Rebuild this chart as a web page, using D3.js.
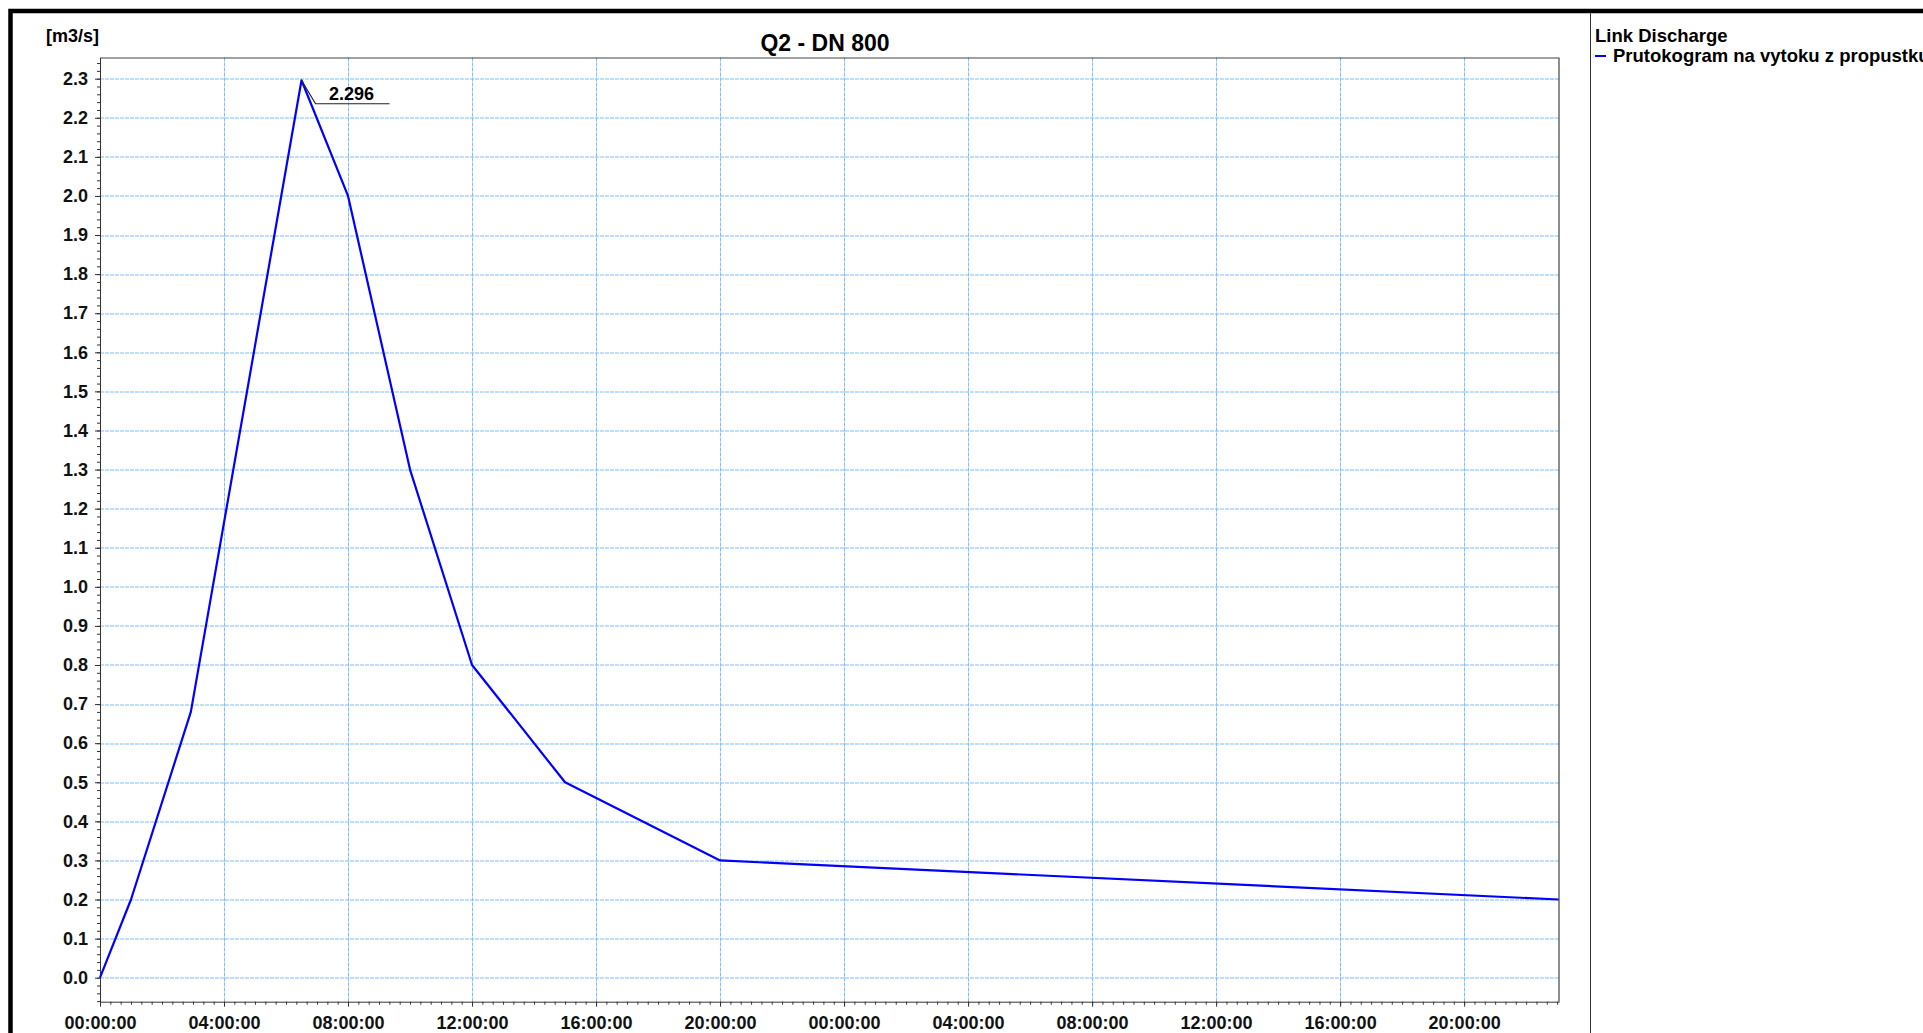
<!DOCTYPE html>
<html>
<head>
<meta charset="utf-8">
<script src="https://cdn.jsdelivr.net/npm/d3@7"></script>
<style>
    body { margin: 0; background: #fff; }
    svg { display: block; font-family: "Liberation Sans", Arial, sans-serif; font-weight: bold; }
    .axis path, .axis line { stroke: #333; }
    .axis text { fill: #111; font-size: 18px; font-weight: bold; }
    .grid line { stroke: #7dbdff; stroke-dasharray: 4,1; }
</style>
</head>
<body>
<svg id="chart"></svg>
<script>
// hydrograph (hours from start, m3/s)
const hours = [0, 1, 2.93, 6.5, 8, 10, 12, 15, 20, 47.05];
const flow  = [0, 0.2, 0.68, 2.296, 2.0, 1.3, 0.8, 0.5, 0.3, 0.2];

const title = "Q2 - DN 800";
const unit = "[m3/s]";
const legendTitle = "Link Discharge";
const seriesName = "Prutokogram na vytoku z propustku";
const peakLabel = "2.296";

const yTicks = d3.range(0, 24).map((i) => i / 10);
const xTickHours = d3.range(0, 48, 4);

const W = 1923, H = 1033;
const margin = { top: 57.5, right: 364, bottom: 31.3, left: 100 };
const width  = W - margin.left - margin.right;
const height = H - margin.top - margin.bottom;

const t0 = new Date(2000, 0, 1, 0, 0, 0);
var toDate = (h) => new Date(t0.getTime() + h * 3600 * 1000);

var data = hours.map((h, i) => ({ t: toDate(h), q: flow[i] }));

const svg = d3.select("#chart").attr("width", W).attr("height", H);

// outer frame and legend divider
svg.append("rect")
    .attr("x", 10.5).attr("y", 11)
    .attr("width", 2000).attr("height", 2000)
    .attr("fill", "none").attr("stroke", "#000").attr("stroke-width", 4.5);

svg.append("line")
    .attr("x1", 1590.5).attr("x2", 1590.5)
    .attr("y1", 13).attr("y2", H)
    .attr("stroke", "#333").attr("stroke-width", 1);

const g = svg.append("g")
    .attr("transform", "translate(" + margin.left + "," + margin.top + ")");

var x = d3.scaleTime()
    .domain([toDate(0), toDate(47.06)])
    .range([0, width]);

var y = d3.scaleLinear()
    .domain([-0.0614, 2.3542])
    .range([height, 0]);

// grid
g.append("g").attr("class", "grid")
    .selectAll("line")
    .data(yTicks)
    .enter().append("line")
    .attr("x1", 0).attr("x2", width)
    .attr("y1", (d) => Math.round(y(d)) + 0.5)
    .attr("y2", (d) => Math.round(y(d)) + 0.5);

g.append("g").attr("class", "grid")
    .selectAll("line")
    .data(xTickHours.slice(1))
    .enter().append("line")
    .attr("y1", 0).attr("y2", height)
    .attr("x1", (d) => Math.round(x(toDate(d))) + 0.5)
    .attr("x2", (d) => Math.round(x(toDate(d))) + 0.5);

// plot frame (top and right)
g.append("path")
    .attr("d", "M0,0.5H" + width + "V" + height)
    .attr("fill", "none").attr("stroke", "#444").attr("stroke-width", 1.2);

// minor ticks
const yMinor = d3.range(-3, 118).map((i) => i * 0.02);
g.append("g").attr("class", "axis")
    .call(d3.axisLeft(y).tickValues(yMinor).tickSize(3).tickFormat(""))
    .select(".domain").remove();

const xMinor = d3.range(0, 47 * 3 + 1).map((i) => toDate(i / 3));
g.append("g").attr("class", "axis")
    .attr("transform", "translate(0," + height + ")")
    .call(d3.axisBottom(x).tickValues(xMinor).tickSize(3).tickFormat(""))
    .select(".domain").remove();

// main axes
g.append("g").attr("class", "axis y")
    .call(d3.axisLeft(y).tickValues(yTicks).tickSize(5).tickPadding(7)
        .tickSizeOuter(0).tickFormat(d3.format(".1f")));

g.append("g").attr("class", "axis x")
    .attr("transform", "translate(0," + height + ")")
    .call(d3.axisBottom(x).tickValues(xTickHours.map(toDate)).tickSize(5)
        .tickPadding(10).tickSizeOuter(0).tickFormat(d3.timeFormat("%H:%M:%S")));

// the series
var line = d3.line()
    .x((d) => x(d.t))
    .y((d) => y(d.q));

g.append("path")
    .datum(data)
    .attr("fill", "none")
    .attr("stroke", "#0000ff")
    .attr("stroke-width", 2.2)
    .attr("stroke-linejoin", "round")
    .attr("d", line);

// peak label
const peakIdx = d3.maxIndex(flow);
const px = x(data[peakIdx].t), py = y(data[peakIdx].q);
g.append("path")
    .attr("d", "M" + px + "," + py + "L" + (px + 14) + "," + (py + 23.5) + "H" + (px + 88))
    .attr("fill", "none").attr("stroke", "#222").attr("stroke-width", 1.2);
g.append("text")
    .attr("x", px + 27.5).attr("y", py + 19.5)
    .style("font-size", "18px")
    .text(peakLabel);

// titles
svg.append("text")
    .attr("x", 825).attr("y", 50.5)
    .style("text-anchor", "middle")
    .style("font-size", "23px")
    .text(title);

svg.append("text")
    .attr("x", 46).attr("y", 42)
    .style("font-size", "18px")
    .text(unit);

// legend
svg.append("text")
    .attr("x", 1595).attr("y", 41.5)
    .style("font-size", "18.5px")
    .text(legendTitle);

svg.append("line")
    .attr("x1", 1595).attr("x2", 1606)
    .attr("y1", 56).attr("y2", 56)
    .attr("stroke", "#0000ff").attr("stroke-width", 2);

svg.append("text")
    .attr("x", 1613).attr("y", 61.5)
    .style("font-size", "18.5px")
    .text(seriesName);
</script>
</body>
</html>
